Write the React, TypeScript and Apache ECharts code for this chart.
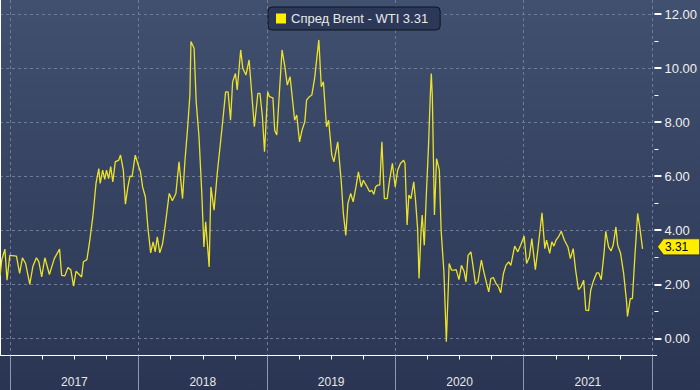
import React, { useEffect, useRef } from "react";
import * as echarts from "echarts";

const seriesName = "Спред Brent - WTI";
const lastValueLabel = "3.31";
const yearLabels = ["2017", "2018", "2019", "2020", "2021"];
const yearStart = 2017;
const yearEnd = 2022;
const axisStart = "2016-12-03";
const axisEnd = "2022-01-14";
const yMin = 0;
const yMax = 12;
const yInterval = 2;

const dates = [
  "2016-12-03", "2016-12-08", "2016-12-17", "2016-12-23", "2016-12-31", "2017-01-19", "2017-01-28", "2017-02-05",
  "2017-02-14", "2017-02-26", "2017-03-07", "2017-03-17", "2017-03-24", "2017-04-01", "2017-04-10", "2017-04-23",
  "2017-05-07", "2017-05-22", "2017-05-28", "2017-06-06", "2017-06-15", "2017-06-23", "2017-07-01", "2017-07-08",
  "2017-07-24", "2017-07-29", "2017-08-08", "2017-08-15", "2017-08-25", "2017-09-03", "2017-09-11", "2017-09-15",
  "2017-09-22", "2017-09-28", "2017-10-03", "2017-10-09", "2017-10-15", "2017-10-21", "2017-10-28", "2017-11-07",
  "2017-11-12", "2017-11-20", "2017-11-26", "2017-12-03", "2017-12-09", "2017-12-15", "2017-12-24", "2018-01-03",
  "2018-01-08", "2018-01-14", "2018-01-22", "2018-01-29", "2018-02-06", "2018-02-13", "2018-02-19", "2018-02-25",
  "2018-03-04", "2018-03-12", "2018-03-19", "2018-03-31", "2018-04-09", "2018-04-19", "2018-04-28", "2018-05-08",
  "2018-05-15", "2018-05-22", "2018-05-29", "2018-06-01", "2018-06-10", "2018-06-16", "2018-06-24", "2018-07-02",
  "2018-07-08", "2018-07-13", "2018-07-23", "2018-07-28", "2018-08-06", "2018-08-15", "2018-08-25", "2018-08-31",
  "2018-09-08", "2018-09-15", "2018-09-22", "2018-09-28", "2018-10-06", "2018-10-11", "2018-10-21", "2018-10-27",
  "2018-11-05", "2018-11-14", "2018-11-20", "2018-11-29", "2018-12-09", "2018-12-15", "2018-12-22", "2018-12-28",
  "2019-01-06", "2019-01-11", "2019-01-21", "2019-01-26", "2019-02-01", "2019-02-16", "2019-02-24", "2019-03-03",
  "2019-03-11", "2019-03-19", "2019-03-24", "2019-03-30", "2019-04-07", "2019-04-14", "2019-04-22", "2019-04-27",
  "2019-05-05", "2019-05-12", "2019-05-20", "2019-06-01", "2019-06-08", "2019-06-14", "2019-06-23", "2019-06-29",
  "2019-07-08", "2019-07-14", "2019-07-25", "2019-08-04", "2019-08-10", "2019-08-17", "2019-08-23", "2019-08-31",
  "2019-09-07", "2019-09-15", "2019-09-22", "2019-09-30", "2019-10-06", "2019-10-11", "2019-10-17", "2019-10-24",
  "2019-10-30", "2019-11-05", "2019-11-10", "2019-11-16", "2019-11-22", "2019-11-28", "2019-12-05", "2019-12-13",
  "2019-12-20", "2019-12-28", "2020-01-05", "2020-01-12", "2020-01-20", "2020-01-29", "2020-02-02", "2020-02-08",
  "2020-02-13", "2020-02-19", "2020-02-27", "2020-03-03", "2020-03-09", "2020-03-13", "2020-03-19", "2020-03-22",
  "2020-03-28", "2020-04-03", "2020-04-09", "2020-04-14", "2020-04-17", "2020-04-20", "2020-04-26", "2020-05-02",
  "2020-05-10", "2020-05-15", "2020-05-23", "2020-05-30", "2020-06-07", "2020-06-14", "2020-06-22", "2020-06-27",
  "2020-07-05", "2020-07-12", "2020-07-20", "2020-07-25", "2020-07-31", "2020-08-08", "2020-08-13", "2020-08-21",
  "2020-08-28", "2020-09-07", "2020-09-14", "2020-09-22", "2020-09-28", "2020-10-04", "2020-10-11", "2020-10-19",
  "2020-10-26", "2020-11-01", "2020-11-09", "2020-11-16", "2020-11-24", "2020-11-30", "2020-12-11", "2020-12-20",
  "2020-12-28", "2021-01-07", "2021-01-14", "2021-01-22", "2021-01-29", "2021-02-08", "2021-02-15", "2021-02-27",
  "2021-03-07", "2021-03-12", "2021-03-21", "2021-03-27", "2021-04-02", "2021-04-08", "2021-04-15", "2021-04-23",
  "2021-05-02", "2021-05-12", "2021-05-19", "2021-05-27", "2021-06-03", "2021-06-11", "2021-06-18", "2021-06-26",
  "2021-07-02", "2021-07-10", "2021-07-16", "2021-07-23", "2021-08-02", "2021-08-08", "2021-08-15", "2021-08-23",
  "2021-08-28", "2021-09-05", "2021-09-12", "2021-09-18", "2021-09-26", "2021-10-01", "2021-10-09", "2021-10-18",
  "2021-10-26", "2021-10-29", "2021-11-06", "2021-11-12", "2021-11-19", "2021-11-27", "2021-12-03", "2021-12-11",
];

const values = [
  2.3, 2.9, 3.3, 2.15, 3.07, 3.04, 2.4, 2.98,
  2.77, 2.0, 2.67, 2.98, 2.83, 2.27, 2.98, 2.36,
  2.95, 3.3, 2.33, 2.31, 2.62, 2.54, 1.93, 2.48,
  2.27, 2.83, 2.91, 3.5, 4.5, 5.73, 6.28, 5.73,
  6.22, 5.88, 6.22, 5.91, 6.35, 5.79, 6.53, 6.59,
  6.78, 6.22, 4.96, 5.6, 6.0, 5.98, 6.78, 6.35,
  6.16, 5.6, 5.23, 4.12, 3.16, 3.57, 3.2, 3.75,
  3.16, 3.5, 4.12, 5.36, 5.09, 5.36, 6.53, 5.17,
  6.59, 7.7, 9.0, 10.98, 10.73, 8.75, 7.46, 5.36,
  3.38, 4.31, 2.64, 5.6, 4.74, 6.1, 7.33, 8.07,
  9.12, 9.12, 8.07, 9.49, 9.8, 9.19, 10.67, 9.99,
  9.74, 10.3, 9.31, 7.83, 9.06, 9.06, 8.2, 6.9,
  9.12, 8.94, 8.9, 7.7, 7.52, 10.67, 10.05, 9.37,
  9.68, 8.69, 8.07, 8.26, 7.27, 7.7, 8.01, 8.81,
  8.94, 9.0, 9.62, 11.04, 9.31, 9.49, 7.83, 8.07,
  6.78, 6.53, 7.27, 5.8, 4.62, 3.81, 4.99, 5.36,
  5.05, 5.6, 6.16, 5.6, 5.85, 5.73, 5.6, 5.42,
  5.48, 5.33, 5.6, 5.67, 5.67, 7.27, 5.17, 5.17,
  5.85, 6.47, 5.6, 6.22, 6.47, 6.59, 6.47, 4.19,
  5.3, 5.17, 5.79, 5.11, 4.06, 2.21, 4.0, 4.56,
  3.44, 5.36, 7.09, 8.94, 9.8, 8.94, 4.56, 6.65,
  6.22, 4.0, 2.46, -0.13, 2.77, 2.52, 2.52, 2.54,
  2.17, 2.7, 2.46, 2.09, 3.07, 3.2, 2.77, 2.02,
  2.09, 2.89, 2.46, 2.02, 1.72, 2.21, 2.25, 2.02,
  1.9, 1.68, 2.4, 2.7, 2.83, 2.7, 3.41, 3.2,
  3.44, 3.78, 2.77, 3.01, 3.69, 2.54, 3.26, 4.64,
  3.32, 3.63, 3.14, 3.57, 3.41, 3.63, 3.75, 3.96,
  3.63, 3.38, 2.95, 3.32, 2.52, 1.8, 1.9, 2.15,
  1.04, 1.02, 1.78, 2.09, 2.42, 2.42, 2.17, 3.14,
  3.96, 3.38, 3.23, 3.44, 4.12, 3.44, 3.16, 2.4,
  1.41, 0.81, 1.47, 1.47, 3.01, 4.62, 4.12, 3.31,
];

const toTs = (s: string) => {
  const [y, m, d] = s.split("-").map(Number);
  return new Date(y, m - 1, d).getTime();
};

export default function App() {
  const ref = useRef<HTMLDivElement>(null);

  useEffect(() => {
    if (!ref.current) return;
    const chart = echarts.init(ref.current, null, { renderer: "svg" });
    const plotW = 656.7;
    const plotRight = 700 - plotW;
    const tMin = toTs(axisStart);
    const tMax = toTs(axisEnd);
    const px = (t: number) => (plotW * (t - tMin)) / (tMax - tMin);
    const decoLeft = px(toTs(`${yearStart}-01-01`));
    const decoRight = 700 - px(toTs(`${yearEnd}-01-01`));
    const data = dates.map((d, i) => [toTs(d), values[i]]);
    const last = data[data.length - 1];
    const font = "'Liberation Sans', Arial, sans-serif";
    const gridDash = { color: "#6f7b97", width: 1, type: [3, 3] as any };

    chart.setOption({
      animation: false,
      backgroundColor: new echarts.graphic.LinearGradient(0, 0, 0, 1, [
        { offset: 0, color: "#41506f" },
        { offset: 0.9, color: "#2c3856" },
        { offset: 1, color: "#2a3553" },
      ]),
      legend: {
        left: 268,
        top: 7,
        data: [{ name: seriesName, icon: "rect", itemStyle: { color: "#ffee00" } }],
        itemWidth: 10,
        itemHeight: 10,
        formatter: (n: string) => `${n} ${lastValueLabel}`,
        textStyle: { color: "#e8e8e8", fontSize: 13, fontFamily: font },
        backgroundColor: "#2b3857",
        borderColor: "#0f151f",
        borderWidth: 1,
        borderRadius: 4,
        padding: [5, 12, 5, 8],
      },
      grid: [
        { left: 0, right: plotRight, top: 0, bottom: 34.5 },
        { left: decoLeft, right: decoRight, top: 0, bottom: 34.5 },
        { left: 0, right: plotRight, top: 14, bottom: 51.7 },
      ],
      xAxis: [
        {
          gridIndex: 0, type: "value", min: 0, max: 1, position: "bottom",
          axisLine: { show: true, onZero: false, lineStyle: { color: "#ffffff", width: 1 } },
          axisTick: { show: false }, axisLabel: { show: false }, splitLine: { show: false },
        },
        {
          gridIndex: 1, type: "value", min: yearStart, max: yearEnd, interval: 1, position: "bottom",
          axisLine: { show: false, onZero: false },
          axisTick: { show: true, length: 35, lineStyle: { color: "#8e98b0", width: 1 } },
          minorTick: { show: true, splitNumber: 4, length: 4, lineStyle: { color: "#ffffff", width: 1 } },
          axisLabel: { show: false },
          splitLine: { show: true, lineStyle: gridDash },
        },
        {
          gridIndex: 1, type: "category", data: yearLabels, boundaryGap: true, position: "bottom",
          axisLine: { show: false, onZero: false }, axisTick: { show: false },
          axisLabel: { color: "#e8e8e8", fontSize: 12, margin: 20, fontFamily: font },
          splitLine: { show: false },
        },
        { gridIndex: 2, type: "time", min: tMin, max: tMax, show: false },
      ],
      yAxis: [
        {
          gridIndex: 0, type: "value", position: "right", min: 0, max: 1,
          axisLine: { show: true, lineStyle: { color: "#ffffff", width: 1 } },
          axisTick: { show: false }, axisLabel: { show: false }, splitLine: { show: false },
        },
        { gridIndex: 1, type: "value", show: false },
        {
          gridIndex: 2, type: "value", position: "right", min: yMin, max: yMax, interval: yInterval,
          axisLine: { show: false },
          axisTick: { show: true, length: 7, lineStyle: { color: "#ffffff", width: 2 } },
          minorTick: { show: true, splitNumber: 2, length: 4, lineStyle: { color: "#ffffff", width: 1 } },
          axisLabel: {
            color: "#f0f0f0", fontSize: 13, margin: 10, fontFamily: font,
            formatter: (v: number) => v.toFixed(2),
          },
          splitLine: { show: true, lineStyle: gridDash },
        },
      ],
      series: [
        {
          type: "line",
          name: seriesName,
          xAxisIndex: 3,
          yAxisIndex: 2,
          data,
          symbol: "none",
          showSymbol: false,
          clip: false,
          lineStyle: { color: "#ece228", width: 1.3 },
          itemStyle: { color: "#ffee00" },
          markPoint: {
            silent: true,
            data: [
              {
                coord: last,
                symbol: "path://M0,8L6,0L42,0L42,16L6,16Z",
                symbolSize: [42, 16],
                symbolOffset: [36, -2],
                itemStyle: { color: "#ffee00", borderColor: "#1a1a1a", borderWidth: 0.5 },
                label: {
                  show: true, position: "inside", formatter: lastValueLabel,
                  color: "#000000", fontSize: 12, fontFamily: font, offset: [-2, 0],
                },
              },
            ],
          },
        },
      ],
    });
    return () => chart.dispose();
  }, []);

  return (
    <div
      ref={ref}
      style={{ position: "absolute", left: 0, top: 0, width: 700, height: 390 }}
    />
  );
}
